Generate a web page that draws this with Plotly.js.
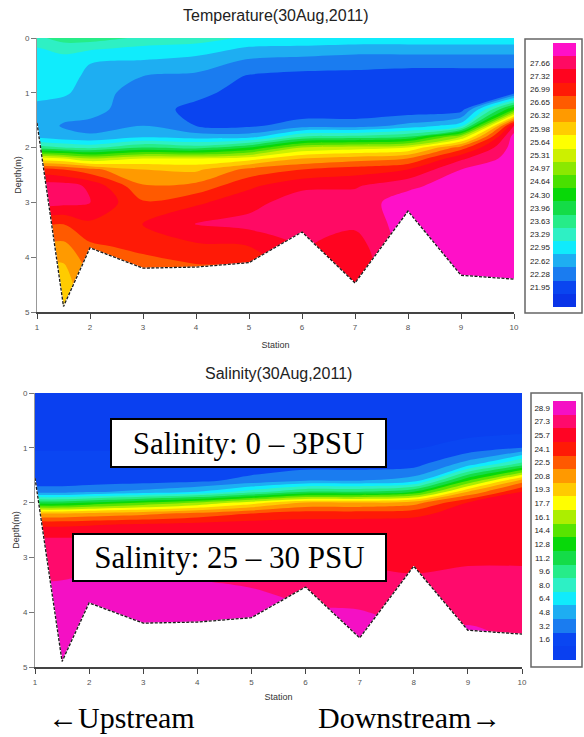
<!DOCTYPE html>
<html><head><meta charset="utf-8">
<script src="https://cdn.plot.ly/plotly-3.0.1.min.js"></script>
<style>html,body{margin:0;padding:0;background:#fff;}#chart{width:584px;height:737px;}</style>
</head><body><div id="chart"></div>
<script>
// ---------------- DATA ----------------
const stations = [1, 1.5, 2, 3, 4, 5, 6, 7, 8, 9, 10];
const depths = [0, 0.2, 0.4, 0.7, 1.0, 1.3, 1.6, 1.8, 2.0, 2.2, 2.4, 2.7, 3.0, 3.4, 3.8, 4.2, 4.6, 5.0];

// Temperature profiles (deg C), one per station, surface to 5 m
const tempSt1   = [23.36, 23.09, 23.02, 22.99, 22.89, 22.69, 22.62, 22.69, 23.63, 25.65, 26.99, 27.66, 27.66, 26.92, 26.45, 26.08, 25.91, 25.91];
const tempSt1_5 = [23.63, 23.22, 23.02, 22.96, 22.85, 22.59, 22.42, 22.55, 23.46, 25.48, 26.82, 27.66, 27.60, 26.82, 26.39, 26.08, 25.91, 25.91];
const tempSt2   = [23.63, 23.16, 22.82, 22.69, 22.62, 22.55, 22.38, 22.48, 23.36, 25.14, 26.59, 27.43, 27.50, 27.09, 26.76, 26.59, 26.49, 26.49];
const tempSt3   = [23.39, 23.02, 22.79, 22.45, 22.28, 22.28, 22.45, 22.72, 23.80, 25.48, 26.15, 26.52, 26.86, 27.16, 26.92, 26.65, 26.65, 26.65];
const tempSt4   = [23.29, 22.96, 22.69, 22.38, 22.22, 22.01, 22.11, 22.62, 23.63, 25.48, 26.08, 26.59, 27.09, 27.53, 27.09, 26.76, 26.65, 26.65];
const tempSt5   = [23.06, 22.72, 22.42, 22.08, 21.95, 21.95, 22.05, 22.62, 24.13, 25.65, 26.59, 27.09, 27.39, 27.60, 27.16, 26.82, 26.82, 26.82];
const tempSt6   = [23.02, 22.69, 22.35, 22.01, 21.88, 21.88, 22.28, 23.46, 25.14, 26.15, 26.82, 27.43, 27.66, 27.66, 27.53, 27.50, 27.50, 27.50];
const tempSt7   = [23.02, 22.62, 22.28, 22.01, 21.88, 21.88, 22.28, 23.56, 25.31, 26.32, 26.99, 27.46, 27.66, 27.56, 27.33, 27.19, 27.16, 27.16];
const tempSt8   = [23.02, 22.62, 22.28, 21.95, 21.88, 21.88, 22.55, 23.80, 25.48, 26.49, 27.16, 27.76, 28.00, 28.00, 28.00, 28.00, 28.00, 28.00];
const tempSt9   = [23.02, 22.62, 22.28, 21.95, 21.88, 21.95, 22.96, 25.14, 26.65, 27.43, 27.83, 28.00, 28.00, 28.00, 28.00, 28.00, 27.93, 27.93];
const tempSt10  = [23.02, 22.62, 22.28, 21.95, 22.01, 24.47, 27.50, 28.00, 28.00, 28.00, 28.00, 28.00, 28.00, 28.00, 28.00, 28.00, 28.00, 28.00];

// Salinity profiles (PSU)
const salSt1   = [0.40, 0.40, 0.40, 0.48, 0.70, 1.28, 1.61, 3.21, 11.24, 20.08, 24.57, 26.98, 27.62, 27.94, 28.91, 28.91, 28.91, 28.91];
const salSt1_5 = [0.40, 0.40, 0.40, 0.48, 0.70, 1.28, 1.61, 3.21, 11.24, 20.08, 24.57, 26.98, 27.62, 28.05, 29.23, 29.71, 29.71, 29.71];
const salSt2   = [0.40, 0.40, 0.40, 0.48, 0.70, 1.28, 1.61, 3.69, 12.05, 20.56, 24.73, 26.98, 27.62, 28.27, 29.23, 29.71, 29.71, 29.71];
const salSt3   = [0.40, 0.40, 0.40, 0.48, 0.70, 1.28, 1.77, 4.50, 13.65, 21.20, 25.05, 26.98, 27.62, 28.27, 29.23, 29.55, 29.55, 29.55];
const salSt4   = [0.40, 0.40, 0.40, 0.48, 0.70, 1.28, 2.09, 5.62, 15.26, 22.16, 25.37, 26.98, 27.46, 28.05, 28.91, 29.39, 29.39, 29.39];
const salSt5   = [0.40, 0.40, 0.40, 0.48, 0.70, 1.45, 2.89, 8.03, 17.67, 23.29, 25.70, 26.40, 27.14, 27.78, 28.59, 29.23, 29.23, 29.23];
const salSt6   = [0.40, 0.40, 0.40, 0.48, 0.70, 1.61, 4.02, 10.44, 20.08, 24.09, 25.70, 26.02, 26.40, 27.30, 27.95, 28.59, 28.59, 28.59];
const salSt7   = [0.40, 0.40, 0.40, 0.48, 0.70, 1.61, 4.02, 10.44, 20.08, 24.09, 25.70, 25.70, 26.18, 26.98, 27.78, 28.59, 29.23, 29.23];
const salSt8   = [0.40, 0.40, 0.40, 0.48, 0.70, 1.77, 4.82, 12.05, 20.88, 24.41, 25.70, 25.70, 26.02, 26.66, 27.30, 27.78, 28.05, 28.05];
const salSt9   = [0.40, 0.40, 0.40, 0.48, 1.28, 4.82, 13.65, 20.08, 24.89, 25.70, 25.70, 25.70, 26.18, 26.98, 27.62, 28.05, 28.59, 28.59];
const salSt10  = [0.40, 0.40, 0.40, 0.48, 2.41, 9.64, 20.88, 24.89, 25.70, 25.70, 25.70, 25.70, 26.18, 26.98, 27.62, 27.94, 27.94, 27.94];

// River bed (station, depth in m)
const seabedStation = [1, 1.5, 2, 3, 4, 5, 6, 7, 8, 9, 10];
const seabedDepth   = [1.55, 4.9, 3.83, 4.2, 4.18, 4.1, 3.54, 4.47, 3.16, 4.33, 4.4];

const stationTicks = [1, 2, 3, 4, 5, 6, 7, 8, 9, 10];
const depthTicks = [0, 1, 2, 3, 4, 5];

// Colour-bar bands (bottom to top) and their labels
const tempBandCenters = [21.61, 21.95, 22.28, 22.62, 22.95, 23.29, 23.63, 23.96, 24.30, 24.64, 24.97, 25.31, 25.64, 25.98, 26.32, 26.65, 26.99, 27.32, 27.66, 28.00];
const tempTickLabels = ["21.95", "22.28", "22.62", "22.95", "23.29", "23.63", "23.96", "24.30", "24.64", "24.97", "25.31", "25.64", "25.98", "26.32", "26.65", "26.99", "27.32", "27.66"];
const tempColors = ['#0a34e8', '#0a44f0', '#1a7cf0', '#1eaef2', '#10ecfc', '#2ef0c4', '#26ec88', '#14dc46', '#08d808', '#48e000', '#8ce800', '#ccf000', '#ffff00', '#ffcc00', '#ff9a00', '#ff5a00', '#ff1a06', '#ff0420', '#ff0a64', '#ff10c8'];

const salBandCenters = [0.0, 1.6, 3.2, 4.8, 6.4, 8.0, 9.6, 11.2, 12.8, 14.4, 16.1, 17.7, 19.3, 20.9, 22.5, 24.1, 25.7, 27.3, 28.9];
const salTickLabels = ["1.6", "3.2", "4.8", "6.4", "8.0", "9.6", "11.2", "12.8", "14.4", "16.1", "17.7", "19.3", "20.8", "22.5", "24.1", "25.7", "27.3", "28.9"];
const salColors = ['#0a40f0', '#0a46f2', '#1a7cf0', '#1eaef2', '#10ecfc', '#2ef0c4', '#26ec88', '#14dc46', '#08d808', '#5ae400', '#aaee00', '#ffff00', '#ffcc00', '#ff9a00', '#ff5a00', '#ff1a06', '#ff0424', '#ff0a6c', '#f410c4'];

// ---------------- BUILD ----------------
const tempProfiles = [tempSt1, tempSt1_5, tempSt2, tempSt3, tempSt4, tempSt5, tempSt6, tempSt7, tempSt8, tempSt9, tempSt10];
const salProfiles = [salSt1, salSt1_5, salSt2, salSt3, salSt4, salSt5, salSt6, salSt7, salSt8, salSt9, salSt10];
const toGrid = profiles => depths.map((_, r) => profiles.map(p => p[r]));
const makeScale = cols => cols.map((c, i) => [i / (cols.length - 1), c]);
function levels(centers) {
  const n = centers.length;
  const size = (centers[n - 1] - centers[0]) / (n - 1);
  return {start: centers[0] + size / 2, end: centers[n - 1] - size / 2, size: size};
}
const tL = levels(tempBandCenters), sL = levels(salBandCenters);
const maxDepth = depths[depths.length - 1];
const maskX = seabedStation.concat([stations[stations.length - 1], stations[0]]);
const maskY = seabedDepth.concat([maxDepth, maxDepth]);

const W = 584, H = 737;
const px = v => v / W, py = v => 1 - v / H;
const SANS = "'Liberation Sans', Arial, sans-serif";
const SERIF = "'Liberation Serif', 'Times New Roman', serif";

function sectionTraces(xa, ya, profiles, L, colors) {
  return [
    {type: 'contour', x: stations, y: depths, z: toGrid(profiles), xaxis: xa, yaxis: ya,
     autocontour: false, contours: {start: L.start, end: L.end, size: L.size, coloring: 'fill', showlines: false},
     line: {width: 0, smoothing: 0.9}, colorscale: makeScale(colors), showscale: false, hoverinfo: 'skip'},
    {type: 'scatter', x: maskX, y: maskY, xaxis: xa, yaxis: ya, mode: 'lines', fill: 'toself',
     fillcolor: '#ffffff', line: {color: '#ffffff', width: 1}, hoverinfo: 'skip', showlegend: false},
    {type: 'scatter', x: seabedStation, y: seabedDepth, xaxis: xa, yaxis: ya, mode: 'lines',
     line: {color: '#1a1a1a', width: 1.3, dash: '3px,1.5px'}, hoverinfo: 'skip', showlegend: false}
  ];
}
function barTrace(xa, ya, centers, colors) {
  return {type: 'heatmap', z: centers.map(v => [v]), xaxis: xa, yaxis: ya, colorscale: makeScale(colors),
          zmin: centers[0], zmax: centers[centers.length - 1], showscale: false, hoverinfo: 'skip'};
}

const data = [].concat(
  sectionTraces('x', 'y', tempProfiles, tL, tempColors),
  sectionTraces('x2', 'y2', salProfiles, sL, salColors),
  [barTrace('x3', 'y3', tempBandCenters, tempColors), barTrace('x4', 'y4', salBandCenters, salColors)]
);

function xAx(dom, anchor, standoff) {
  return {domain: dom, anchor: anchor, range: [1, 10], tickvals: stationTicks, ticktext: stationTicks.map(String),
    ticks: 'outside', ticklen: 5, tickwidth: 1, tickcolor: '#444', showline: true, linecolor: '#444', linewidth: 1.5,
    showgrid: false, zeroline: false, ticklabelstandoff: 2, tickfont: {family: SANS, size: 8, color: '#555'},
    title: {text: 'Station', font: {family: SANS, size: 9, color: '#333'}, standoff: standoff}};
}
function yAx(dom, anchor) {
  return {domain: dom, anchor: anchor, range: [maxDepth, 0], tickvals: depthTicks,
    ticks: 'outside', ticklen: 5, tickwidth: 1, tickcolor: '#777', showline: true, linecolor: '#999', linewidth: 1,
    showgrid: false, zeroline: false, tickfont: {family: SANS, size: 8, color: '#555'},
    title: {text: 'Depth(m)', font: {family: SANS, size: 9, color: '#333'}, standoff: 1}};
}
function barY(dom, anchor, nBands, labels) {
  return {domain: dom, anchor: anchor, range: [-0.5, nBands - 0.5],
    tickvals: labels.map((_, i) => i + 1), ticktext: labels, ticks: '', showline: false, showgrid: false,
    zeroline: false, side: 'left', ticklabelstandoff: 2, tickfont: {family: SANS, size: 8, color: '#222'}};
}

const layout = {
  width: W, height: H, autosize: false, margin: {l: 0, r: 0, t: 0, b: 0},
  paper_bgcolor: '#fff', plot_bgcolor: '#fff', showlegend: false,
  font: {family: SANS, color: '#333'},
  xaxis: xAx([px(37), px(514)], 'y', 10),
  yaxis: yAx([py(312), py(38)], 'x'),
  xaxis2: xAx([px(35), px(522)], 'y2', 7),
  yaxis2: yAx([py(667), py(393)], 'x2'),
  xaxis3: {domain: [px(553), px(576)], anchor: 'y3', visible: false, range: [-0.5, 0.5]},
  yaxis3: barY([py(307), py(43)], 'x3', tempBandCenters.length, tempTickLabels),
  xaxis4: {domain: [px(553), px(576)], anchor: 'y4', visible: false, range: [-0.5, 0.5]},
  yaxis4: barY([py(660), py(401)], 'x4', salBandCenters.length, salTickLabels),
  shapes: [
    {type: 'rect', xref: 'paper', yref: 'paper', x0: px(525), x1: px(582), y0: py(313), y1: py(39), line: {color: '#666', width: 1.5}},
    {type: 'rect', xref: 'paper', yref: 'paper', x0: px(531), x1: px(582), y0: py(667), y1: py(393), line: {color: '#666', width: 1.5}}
  ],
  annotations: [
    {text: 'Temperature(30Aug,2011)', xref: 'paper', yref: 'paper', x: px(275.5), y: py(15), xanchor: 'center', yanchor: 'middle', showarrow: false, font: {family: SANS, size: 16, color: '#222'}},
    {text: 'Salinity(30Aug,2011)', xref: 'paper', yref: 'paper', x: px(278.5), y: py(373.5), xanchor: 'center', yanchor: 'middle', showarrow: false, font: {family: SANS, size: 16, color: '#222'}},
    {text: 'Salinity: 0 – 3PSU', xref: 'paper', yref: 'paper', x: px(248.5), y: py(443), xanchor: 'center', yanchor: 'middle', showarrow: false,
     width: 273, height: 46, borderpad: 0, bgcolor: '#fff', bordercolor: '#000', borderwidth: 2, font: {family: SERIF, size: 31, color: '#000'}},
    {text: 'Salinity: 25 – 30 PSU', xref: 'paper', yref: 'paper', x: px(229.5), y: py(557.5), xanchor: 'center', yanchor: 'middle', showarrow: false,
     width: 311, height: 45, borderpad: 0, bgcolor: '#fff', bordercolor: '#000', borderwidth: 2, font: {family: SERIF, size: 31, color: '#000'}},
    {text: '←Upstream', xref: 'paper', yref: 'paper', x: px(121.5), y: py(736), xanchor: 'center', yanchor: 'bottom', showarrow: false, font: {family: SERIF, size: 30, color: '#000'}},
    {text: 'Downstream→', xref: 'paper', yref: 'paper', x: px(409), y: py(736), xanchor: 'center', yanchor: 'bottom', showarrow: false, font: {family: SERIF, size: 30, color: '#000'}}
  ]
};

Plotly.newPlot('chart', data, layout, {staticPlot: true, displayModeBar: false});
</script>
</body></html>
